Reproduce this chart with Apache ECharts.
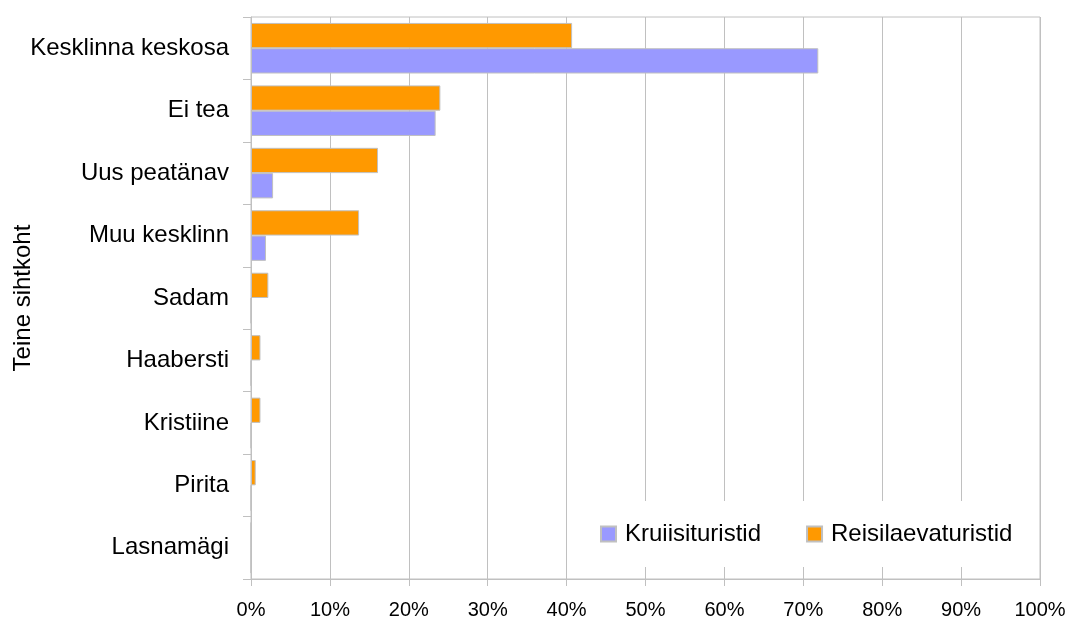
<!DOCTYPE html>
<html>
<head>
<meta charset="utf-8">
<script src="https://cdn.jsdelivr.net/npm/echarts@6/dist/echarts.min.js"></script>
<style>
  html, body { margin: 0; padding: 0; background: #fff; }
  #chart { width: 1070px; height: 619px; }
</style>
</head>
<body>
<div id="chart"></div>
<script>
// destinations, top to bottom
const categories = [
  "Kesklinna keskosa", "Ei tea", "Uus peatänav", "Muu kesklinn",
  "Sadam", "Haabersti", "Kristiine", "Pirita", "Lasnamägi"
];
// share of respondents, %
const cruiseTourists = [71.9, 23.4, 2.8, 1.9, 0, 0, 0, 0, 0];
const ferryTourists = [40.7, 24.0, 16.1, 13.7, 2.2, 1.2, 1.2, 0.6, 0];
const xTicks = { min: 0, max: 100, interval: 10 };

const font = "'Liberation Sans', Arial, sans-serif";
const lineGrey = "#c0c0c0";

const chart = echarts.init(document.getElementById("chart"));

chart.setOption({
  backgroundColor: "#fff",
  animation: false,
  textStyle: { fontFamily: font, color: "#000" },
  grid: {
    left: 251, right: 30, top: 17, bottom: 40,
    containLabel: false,
    outerBoundsMode: "none",
    show: true, borderColor: lineGrey, borderWidth: 1
  },
  legend: {
    data: ["Kruiisituristid", "Reisilaevaturistid"],
    left: 590, top: 501,
    padding: [21, 11, 21, 10],
    backgroundColor: "#fff",
    itemWidth: 15, itemHeight: 15, itemGap: 45,
    icon: "rect",
    textStyle: { fontFamily: font, fontSize: 24, color: "#000", padding: [0, 0, 0, 4] }
  },
  xAxis: {
    type: "value",
    min: xTicks.min, max: xTicks.max, interval: xTicks.interval,
    axisLine: { show: true, lineStyle: { color: lineGrey } },
    axisTick: { show: true, length: 7, lineStyle: { color: lineGrey } },
    axisLabel: { formatter: "{value}%", fontSize: 20, color: "#000", margin: 21, fontFamily: font },
    splitLine: { show: true, lineStyle: { color: lineGrey } }
  },
  yAxis: {
    type: "category",
    data: categories,
    inverse: true,
    name: "Teine sihtkoht",
    nameLocation: "middle",
    nameGap: 216,
    nameMoveOverlap: false,
    nameTextStyle: { fontSize: 24, color: "#000", fontFamily: font },
    axisLine: { show: true, lineStyle: { color: lineGrey } },
    axisTick: { show: true, length: 8, lineStyle: { color: lineGrey } },
    axisLabel: { fontSize: 24, color: "#000", margin: 22, fontFamily: font },
    splitLine: { show: false }
  },
  series: [
    {
      name: "Reisilaevaturistid",
      type: "bar",
      data: ferryTourists,
      barGap: "0%",
      barCategoryGap: "19%",
      itemStyle: { color: "#ff9900", borderColor: lineGrey, borderWidth: 1 }
    },
    {
      name: "Kruiisituristid",
      type: "bar",
      data: cruiseTourists,
      itemStyle: { color: "#9999ff", borderColor: lineGrey, borderWidth: 1 }
    }
  ]
});
</script>
</body>
</html>
